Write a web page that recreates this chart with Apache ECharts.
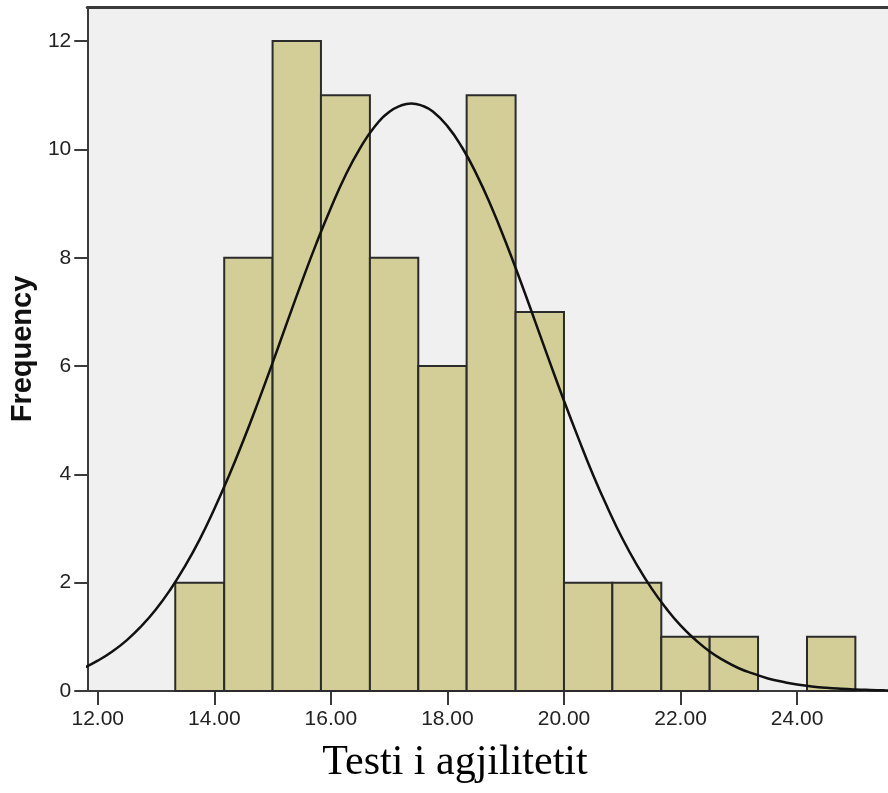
<!DOCTYPE html>
<html>
<head>
<meta charset="utf-8">
<script src="https://cdn.jsdelivr.net/npm/echarts@6/dist/echarts.min.js"></script>
<style>
  html, body { margin: 0; padding: 0; background: #fff; }
  #chart { width: 888px; height: 793px; }
</style>
</head>
<body>
<div id="chart"></div>
<script>
// histogram bins (bin width ~0.833)
const binStart = [13.33, 14.17, 15.0, 15.83, 16.67, 17.5, 18.33, 19.17, 20.0, 20.83, 21.67, 22.5, 23.33, 24.17];
const binEnd   = [14.17, 15.0, 15.83, 16.67, 17.5, 18.33, 19.17, 20.0, 20.83, 21.67, 22.5, 23.33, 24.17, 25.0];
const counts   = [2, 8, 12, 11, 8, 6, 11, 7, 2, 2, 1, 1, 0, 1];

// normal curve
const curveX = [11.75, 12.0, 12.25, 12.5, 12.75, 13.0, 13.25, 13.5, 13.75, 14.0, 14.25, 14.5, 14.75, 15.0, 15.25, 15.5, 15.75, 16.0, 16.25, 16.5, 16.75, 17.0, 17.2, 17.38, 17.56, 17.75, 18.0, 18.25, 18.5, 18.75, 19.0, 19.25, 19.5, 19.75, 20.0, 20.25, 20.5, 20.75, 21.0, 21.25, 21.5, 21.75, 22.0, 22.25, 22.5, 22.75, 23.0, 23.25, 23.5, 23.75, 24.0, 24.25, 24.5, 24.75, 25.0, 25.25, 25.5, 25.75];
const curveY = [0.42, 0.56, 0.73, 0.94, 1.20, 1.51, 1.88, 2.31, 2.80, 3.36, 3.97, 4.63, 5.33, 6.06, 6.81, 7.55, 8.26, 8.92, 9.52, 10.02, 10.42, 10.69, 10.81, 10.85, 10.81, 10.70, 10.43, 10.04, 9.54, 8.95, 8.29, 7.58, 6.84, 6.09, 5.36, 4.66, 3.99, 3.38, 2.82, 2.33, 1.90, 1.53, 1.21, 0.95, 0.73, 0.56, 0.42, 0.32, 0.23, 0.17, 0.12, 0.085, 0.059, 0.041, 0.028, 0.019, 0.012, 0.008];

const xTicks = [12, 14, 16, 18, 20, 22, 24];
const yTicks = [0, 2, 4, 6, 8, 10, 12];

const chart = echarts.init(document.getElementById("chart"));
const labelFont = { fontFamily: "Liberation Sans, Arial, sans-serif", fontSize: 21, color: "#222" };
const axisColor = "#3a3a3a";

const option = {
  animation: false,
  grid: {
    left: 87, top: 7, right: 0, bottom: 102,
    show: true, backgroundColor: "#f0f0f0", borderWidth: 0
  },
  xAxis: [
    {
      type: "value",
      min: 11.82, max: 25.56,
      splitLine: { show: false },
      axisLine: { show: true, onZero: false, lineStyle: { color: axisColor, width: 2 } },
      axisTick: { show: true, customValues: xTicks, length: 14, lineStyle: { color: axisColor, width: 2 } },
      axisLabel: Object.assign({ customValues: xTicks, margin: 18, formatter: v => v.toFixed(2) }, labelFont)
    },
    {
      // top frame line only
      type: "value",
      position: "top",
      min: 11.82, max: 25.56,
      splitLine: { show: false },
      axisLine: { show: true, onZero: false, lineStyle: { color: axisColor, width: 3 } },
      axisTick: { show: false },
      axisLabel: { show: false }
    }
  ],
  yAxis: {
    type: "value",
    min: 0, max: 12.63,
    name: "Frequency",
    nameLocation: "middle",
    nameRotate: 90,
    nameGap: 50,
    nameTextStyle: { fontFamily: "Liberation Sans, Arial, sans-serif", fontSize: 29, fontWeight: "bold", color: "#111" },
    splitLine: { show: false },
    axisLine: { show: true, lineStyle: { color: axisColor, width: 2 } },
    axisTick: { show: true, customValues: yTicks, length: 13, lineStyle: { color: axisColor, width: 2 } },
    axisLabel: Object.assign({ customValues: yTicks, margin: 16 }, labelFont)
  },
  graphic: [{
    type: "text",
    x: 455, y: 763,
    style: {
      text: "Testi i agjilitetit",
      font: "42px 'Liberation Serif', 'Times New Roman', serif",
      fill: "#000",
      align: "center",
      verticalAlign: "middle"
    }
  }],
  series: [
    {
      type: "custom",
      dimensions: ["start", "end", "count"],
      encode: { x: [0, 1], y: 2 },
      data: counts.map((c, i) => [binStart[i], binEnd[i], c]),
      renderItem: function (params, api) {
        if (api.value(2) === 0) return null;
        const p0 = api.coord([api.value(0), api.value(2)]);
        const p1 = api.coord([api.value(1), 0]);
        return {
          type: "rect",
          shape: { x: p0[0], y: p0[1], width: p1[0] - p0[0], height: p1[1] - p0[1] },
          style: { fill: "#d3ce97", stroke: "#2b2b2b", lineWidth: 2 }
        };
      }
    },
    {
      type: "line",
      data: curveX.map((x, i) => [x, curveY[i]]),
      smooth: true,
      showSymbol: false,
      lineStyle: { color: "#111", width: 2.5 },
      z: 3
    }
  ]
};
chart.setOption(option);
window.addEventListener("resize", function () {
  chart.resize();
});
</script>
</body>
</html>
